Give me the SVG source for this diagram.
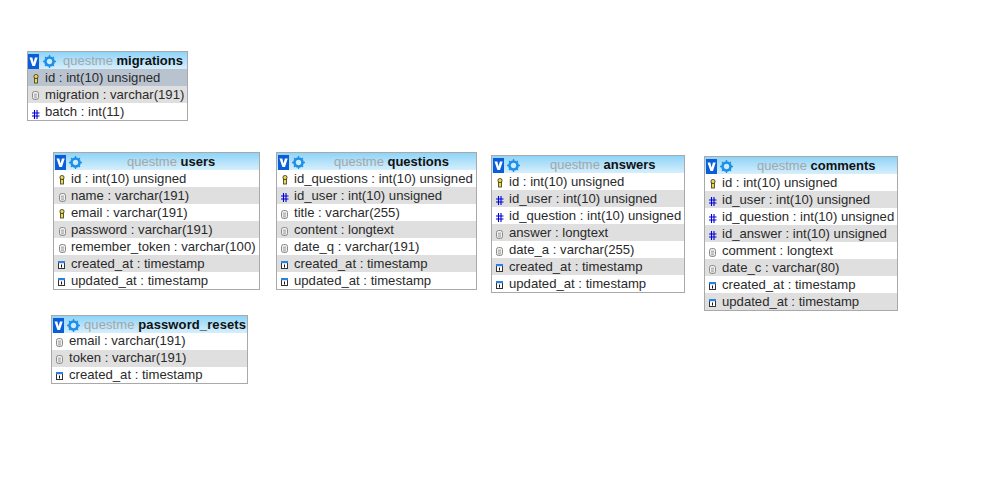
<svg xmlns="http://www.w3.org/2000/svg" xmlns:xlink="http://www.w3.org/1999/xlink" width="1002" height="488" viewBox="0 0 1002 488">
<style>
text{font-family:"Liberation Sans",Arial,sans-serif;font-size:13.140px;fill:#2a2a2a}
.frame{fill:#fff;stroke:#a9a9a9;stroke-width:1}
.alt{fill:#dfdfdf}
.hl{fill:#b9c3d0}
.t{font-size:13px;fill:#a6a6a6}
.t tspan{font-weight:bold;fill:#111}
</style>
<defs>
<linearGradient id="hd" x1="0" y1="0" x2="0" y2="1"><stop offset="0" stop-color="#8fd4f8"/><stop offset="1" stop-color="#d6effc"/></linearGradient>
<g id="tog"><rect width="11" height="15" fill="#0a5fd8"/><path d="M1.500 3.500h2.800l1.300 5 1.300-5h2.800L7 12H4.400z" fill="#fff"/></g>
<g id="gear"><circle cx="6.500" cy="6.500" r="4" fill="#cfeaff" stroke="#1c8fe8" stroke-width="2.600"/><path d="M6.500 0v13M0 6.500h13M2 2l9 9M11 2l-9 9" stroke="#1c8fe8" stroke-width="1.300" stroke-dasharray="2 9"/></g>
<g id="key"><rect x="1" y="0.500" width="4" height="4" rx="1.800" fill="#e9d95a" stroke="#4f4a20"/><rect x="1.500" y="4.500" width="3" height="4.500" fill="#e9d95a" stroke="#4f4a20" stroke-width=".9"/></g>
<g id="txt"><rect x=".5" y=".5" width="6" height="8" rx="2" fill="#f0f0f0" stroke="#8a8a8a"/><path d="M2 3.200h3M2 5h3M2 6.800h3" stroke="#8a8a8a" stroke-width=".8"/></g>
<g id="num"><path d="M2.500 0v9M5 0v9M0 3h7.500M0 6h7.500" stroke="#0000d8" stroke-width="1.100" fill="none"/></g>
<g id="cal"><rect x=".5" y=".5" width="6" height="7" fill="#fff" stroke="#333"/><rect width="7" height="2.200" fill="#2f7fe0"/><path d="M3.500 3.500v3" stroke="#111"/></g>
</defs>
<rect width="1002" height="488" fill="#fff"/>
<g id="connectors"/>

<g id="migrations">
<rect class="frame" x="27.500" y="51.500" width="160" height="69"/>
<rect x="28" y="52" width="159" height="17" fill="url(#hd)"/>
<rect class="hl" x="28" y="69" width="159" height="17"/><rect class="alt" x="28" y="86" width="159" height="17"/>
<use xlink:href="#tog" x="28" y="54"/><use xlink:href="#gear" x="43" y="55"/>
<text class="t" x="63" y="65">questme <tspan>migrations</tspan></text>
<use xlink:href="#key" x="33" y="74"/><text x="45" y="82">id : int(10) unsigned</text>
<use xlink:href="#txt" x="32" y="91"/><text x="45" y="99">migration : varchar(191)</text>
<use xlink:href="#num" x="32" y="110"/><text x="45" y="116">batch : int(11)</text>
</g>

<g id="users">
<rect class="frame" x="53.500" y="152.500" width="206" height="137"/>
<rect x="54" y="153" width="205" height="17" fill="url(#hd)"/>
<rect class="alt" x="54" y="187" width="205" height="17"/><rect class="alt" x="54" y="221" width="205" height="17"/><rect class="alt" x="54" y="255" width="205" height="17"/>
<use xlink:href="#tog" x="55" y="155"/><use xlink:href="#gear" x="69" y="156"/>
<text class="t" x="127" y="166">questme <tspan>users</tspan></text>
<use xlink:href="#key" x="59" y="175"/><text x="71" y="183">id : int(10) unsigned</text>
<use xlink:href="#txt" x="59" y="193"/><text x="71" y="200">name : varchar(191)</text>
<use xlink:href="#key" x="59" y="209"/><text x="71" y="217">email : varchar(191)</text>
<use xlink:href="#txt" x="59" y="227"/><text x="71" y="234">password : varchar(191)</text>
<use xlink:href="#txt" x="59" y="244"/><text x="71" y="251">remember_token : varchar(100)</text>
<use xlink:href="#cal" x="58" y="261"/><text x="71" y="268">created_at : timestamp</text>
<use xlink:href="#cal" x="58" y="278"/><text x="71" y="285">updated_at : timestamp</text>
</g>

<g id="questions">
<rect class="frame" x="276.500" y="152.500" width="200" height="137"/>
<rect x="277" y="153" width="199" height="17" fill="url(#hd)"/>
<rect class="alt" x="277" y="187" width="199" height="17"/><rect class="alt" x="277" y="221" width="199" height="17"/><rect class="alt" x="277" y="255" width="199" height="17"/>
<use xlink:href="#tog" x="278" y="155"/><use xlink:href="#gear" x="292" y="156"/>
<text class="t" x="334" y="166">questme <tspan>questions</tspan></text>
<use xlink:href="#key" x="282" y="175"/><text x="294" y="183">id_questions : int(10) unsigned</text>
<use xlink:href="#num" x="281" y="193"/><text x="294" y="200">id_user : int(10) unsigned</text>
<use xlink:href="#txt" x="281" y="210"/><text x="294" y="217">title : varchar(255)</text>
<use xlink:href="#txt" x="281" y="227"/><text x="294" y="234">content : longtext</text>
<use xlink:href="#txt" x="281" y="244"/><text x="294" y="251">date_q : varchar(191)</text>
<use xlink:href="#cal" x="281" y="261"/><text x="294" y="268">created_at : timestamp</text>
<use xlink:href="#cal" x="281" y="278"/><text x="294" y="285">updated_at : timestamp</text>
</g>

<g id="answers">
<rect class="frame" x="491.500" y="155.500" width="193" height="137"/>
<rect x="492" y="156" width="192" height="17" fill="url(#hd)"/>
<rect class="alt" x="492" y="190" width="192" height="17"/><rect class="alt" x="492" y="224" width="192" height="17"/><rect class="alt" x="492" y="258" width="192" height="17"/>
<use xlink:href="#tog" x="493" y="158"/><use xlink:href="#gear" x="507" y="159"/>
<text class="t" x="550" y="169">questme <tspan>answers</tspan></text>
<use xlink:href="#key" x="497" y="178"/><text x="509" y="186">id : int(10) unsigned</text>
<use xlink:href="#num" x="496" y="196"/><text x="509" y="203">id_user : int(10) unsigned</text>
<use xlink:href="#num" x="496" y="213"/><text x="509" y="220">id_question : int(10) unsigned</text>
<use xlink:href="#txt" x="496" y="230"/><text x="509" y="237">answer : longtext</text>
<use xlink:href="#txt" x="496" y="247"/><text x="509" y="254">date_a : varchar(255)</text>
<use xlink:href="#cal" x="496" y="264"/><text x="509" y="271">created_at : timestamp</text>
<use xlink:href="#cal" x="496" y="281"/><text x="509" y="288">updated_at : timestamp</text>
</g>

<g id="comments">
<rect class="frame" x="704.500" y="156.500" width="193" height="154"/>
<rect x="705" y="157" width="192" height="17" fill="url(#hd)"/>
<rect class="alt" x="705" y="191" width="192" height="17"/><rect class="alt" x="705" y="225" width="192" height="17"/><rect class="alt" x="705" y="259" width="192" height="17"/><rect class="alt" x="705" y="293" width="192" height="17"/>
<use xlink:href="#tog" x="706" y="159"/><use xlink:href="#gear" x="720" y="160"/>
<text class="t" x="757" y="170">questme <tspan>comments</tspan></text>
<use xlink:href="#key" x="710" y="179"/><text x="722" y="187">id : int(10) unsigned</text>
<use xlink:href="#num" x="709" y="197"/><text x="722" y="204">id_user : int(10) unsigned</text>
<use xlink:href="#num" x="709" y="214"/><text x="722" y="221">id_question : int(10) unsigned</text>
<use xlink:href="#num" x="709" y="231"/><text x="722" y="238">id_answer : int(10) unsigned</text>
<use xlink:href="#txt" x="709" y="248"/><text x="722" y="255">comment : longtext</text>
<use xlink:href="#txt" x="709" y="265"/><text x="722" y="272">date_c : varchar(80)</text>
<use xlink:href="#cal" x="709" y="282"/><text x="722" y="289">created_at : timestamp</text>
<use xlink:href="#cal" x="709" y="299"/><text x="722" y="306">updated_at : timestamp</text>
</g>

<g id="password_resets">
<rect class="frame" x="51.500" y="315.500" width="196" height="68"/>
<rect x="52" y="316" width="195" height="17" fill="url(#hd)"/>
<rect class="alt" x="52" y="350" width="195" height="17"/>
<use xlink:href="#tog" x="53" y="318"/><use xlink:href="#gear" x="67" y="319"/>
<text class="t" x="84" y="329" textLength="162">questme <tspan>password_resets</tspan></text>
<use xlink:href="#txt" x="56" y="338"/><text x="69" y="345">email : varchar(191)</text>
<use xlink:href="#txt" x="56" y="355"/><text x="69" y="362">token : varchar(191)</text>
<use xlink:href="#cal" x="56" y="372"/><text x="69" y="379">created_at : timestamp</text>
</g>
</svg>
